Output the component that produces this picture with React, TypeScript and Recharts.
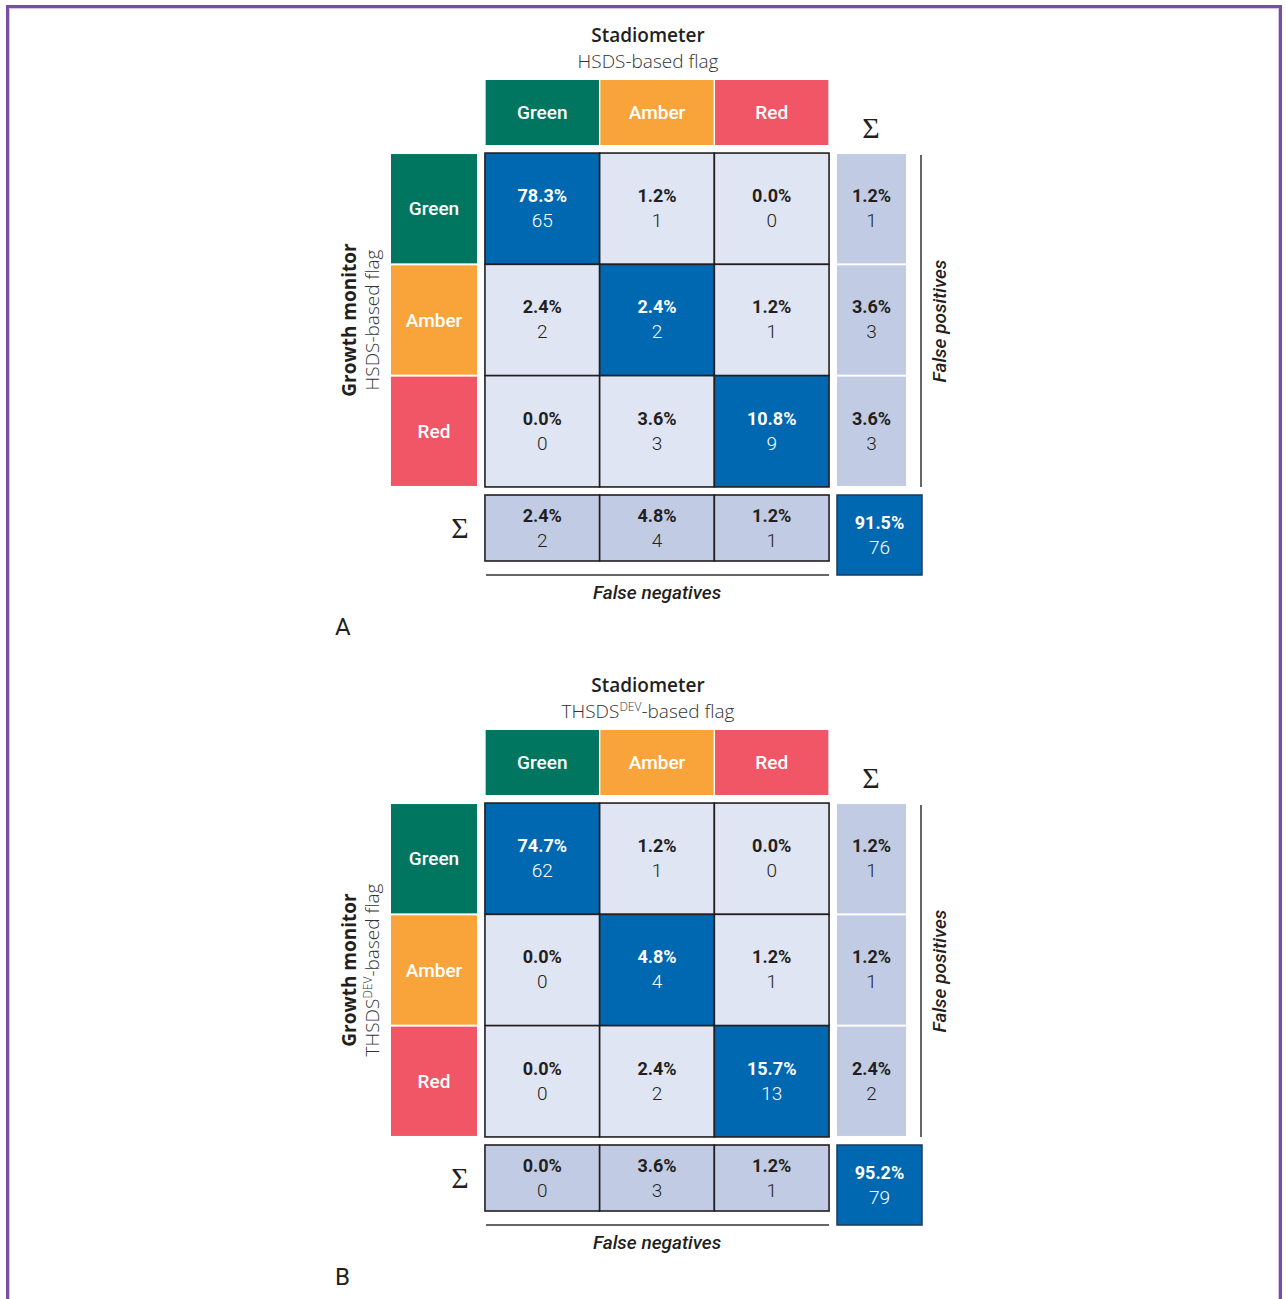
import React from 'react';
import { ScatterChart, Scatter, XAxis, YAxis, ReferenceLine, Customized } from 'recharts';

document.body.style.margin = '0';

// flag categories (rows: growth monitor, columns: stadiometer)
const flags = ['Green', 'Amber', 'Red'];
const flagColours = ['#007660', '#f8a43b', '#f05665'];

// panel A - HSDS-based flag
const hsdsPct = [
  [78.3, 1.2, 0.0],
  [2.4, 2.4, 1.2],
  [0.0, 3.6, 10.8],
];
const hsdsN = [
  [65, 1, 0],
  [2, 2, 1],
  [0, 3, 9],
];
const hsdsFpPct = [1.2, 3.6, 3.6];
const hsdsFpN = [1, 3, 3];
const hsdsFnPct = [2.4, 4.8, 1.2];
const hsdsFnN = [2, 4, 1];
const hsdsTotalPct = 91.5;
const hsdsTotalN = 76;

// panel B - THSDS-DEV-based flag
const thsdsPct = [
  [74.7, 1.2, 0.0],
  [0.0, 4.8, 1.2],
  [0.0, 2.4, 15.7],
];
const thsdsN = [
  [62, 1, 0],
  [0, 4, 1],
  [0, 2, 13],
];
const thsdsFpPct = [1.2, 1.2, 2.4];
const thsdsFpN = [1, 1, 2];
const thsdsFnPct = [0.0, 3.6, 1.2];
const thsdsFnN = [0, 3, 1];
const thsdsTotalPct = 95.2;
const thsdsTotalN = 79;

// layout (px inside one 1286x650 panel)
const W = 1286;
const H = 650;
const CELL_W = 114.7;
const CELL_H = 111.3;
const X0 = 542.3; // centre of first matrix column
const Y0 = 208.7; // centre of first matrix row
const ux = (px: number) => (px - X0) / CELL_W;
const uy = (py: number) => (py - Y0) / CELL_H;

const HEADER_CY = 112.5;
const HEADER_H = 65;
const ROWHEAD_CX = 434;
const ROWHEAD_W = 86;
const SUMCOL_CX = 871.5;
const SUMCOL_W = 69;
const SUMROW_CY = 528;
const SUMROW_H = 66;
const TOTAL_CX = 879.5;
const TOTAL_CY = 535;
const TOTAL_W = 85;
const TOTAL_H = 80;

const BLUE = '#0067b1';
const LIGHT = '#dfe5f3';
const SUMFILL = '#c1cce4';
const BORDER = '#231f20';
const DARK = '#231f20';
const CELL_FONT = 'Roboto, sans-serif';
const LABEL_FONT = '"Open Sans", sans-serif';

const fmt = (v: number) => `${v.toFixed(1)}%`;

const ValueText = ({ cx, cy, pct, n, light, up = 13, down = 11.5 }: any) => (
  <g fontFamily={CELL_FONT} textAnchor="middle" fill={light ? '#ffffff' : DARK}>
    <text x={cx} y={cy - up + 6.4} fontSize={18} fontWeight={700}>
      {fmt(pct)}
    </text>
    <text x={cx} y={cy + down + 6.8} fontSize={19} fontWeight={300}>
      {n}
    </text>
  </g>
);

const matrixShape = (p: any) => {
  const { cx, cy, payload } = p;
  return (
    <g>
      <rect
        x={cx - CELL_W / 2}
        y={cy - CELL_H / 2}
        width={CELL_W}
        height={CELL_H}
        fill={payload.diag ? BLUE : LIGHT}
        stroke={BORDER}
        strokeWidth={1.6}
      />
      <ValueText cx={cx} cy={cy} pct={payload.pct} n={payload.n} light={payload.diag} />
    </g>
  );
};

const headerShape = (p: any) => {
  const { cx, cy, payload } = p;
  return (
    <g>
      <rect x={cx - CELL_W / 2 + 0.7} y={cy - HEADER_H / 2} width={CELL_W - 1.4} height={HEADER_H} fill={payload.colour} />
      <text x={cx} y={cy + 6.5} textAnchor="middle" fill="#fff" fontFamily={CELL_FONT} fontSize={19} fontWeight={500}>
        {payload.label}
      </text>
    </g>
  );
};

const rowHeadShape = (p: any) => {
  const { cx, cy, payload } = p;
  return (
    <g>
      <rect x={cx - ROWHEAD_W / 2} y={cy - CELL_H / 2 + 1} width={ROWHEAD_W} height={CELL_H - 2} fill={payload.colour} />
      <text x={cx} y={cy + 6.5} textAnchor="middle" fill="#fff" fontFamily={CELL_FONT} fontSize={19} fontWeight={500}>
        {payload.label}
      </text>
    </g>
  );
};

const sumColShape = (p: any) => {
  const { cx, cy, payload } = p;
  return (
    <g>
      <rect x={cx - SUMCOL_W / 2} y={cy - CELL_H / 2 + 1} width={SUMCOL_W} height={CELL_H - 2} fill={SUMFILL} />
      <ValueText cx={cx} cy={cy} pct={payload.pct} n={payload.n} />
    </g>
  );
};

const sumRowShape = (p: any) => {
  const { cx, cy, payload } = p;
  return (
    <g>
      <rect
        x={cx - CELL_W / 2}
        y={cy - SUMROW_H / 2}
        width={CELL_W}
        height={SUMROW_H}
        fill={SUMFILL}
        stroke={BORDER}
        strokeWidth={1.6}
      />
      <ValueText cx={cx} cy={cy} pct={payload.pct} n={payload.n} up={12} down={12} />
    </g>
  );
};

const totalShape = (p: any) => {
  const { cx, cy, payload } = p;
  return (
    <g>
      <rect
        x={cx - TOTAL_W / 2}
        y={cy - TOTAL_H / 2}
        width={TOTAL_W}
        height={TOTAL_H}
        fill={BLUE}
        stroke="#1d3a5c"
        strokeWidth={1.5}
      />
      <ValueText cx={cx} cy={cy} pct={payload.pct} n={payload.n} light up={12} down={12} />
    </g>
  );
};

const FlagName = ({ dev }: { dev: boolean }) =>
  dev ? (
    <>
      <tspan>THSDS</tspan>
      <tspan dy={-7} fontSize={12}>
        DEV
      </tspan>
      <tspan dy={7}>-based flag</tspan>
    </>
  ) : (
    <tspan>HSDS-based flag</tspan>
  );

const PanelLabels = ({ dev, letter }: { dev: boolean; letter: string }) => (
  <g fill={DARK}>
    <text x={648} y={42} textAnchor="middle" fontFamily={LABEL_FONT} fontSize={19} fontWeight={600}>
      Stadiometer
    </text>
    <text x={648} y={68} textAnchor="middle" fontFamily={LABEL_FONT} fontSize={19} fontWeight={300} fill="#333">
      <FlagName dev={dev} />
    </text>
    <text x={356} y={320} transform="rotate(-90 356 320)" textAnchor="middle" fontFamily={LABEL_FONT} fontSize={19} fontWeight={700}>
      Growth monitor
    </text>
    <text x={379} y={320} transform="rotate(-90 379 320)" textAnchor="middle" fontFamily={LABEL_FONT} fontSize={19} fontWeight={300} fill="#333">
      <FlagName dev={dev} />
    </text>
    <text x={946} y={321} transform="rotate(-90 946 321)" textAnchor="middle" fontFamily={CELL_FONT} fontSize={19} fontWeight={500} fontStyle="italic">
      False positives
    </text>
    <text x={657} y={599} textAnchor="middle" fontFamily={CELL_FONT} fontSize={19} fontWeight={500} fontStyle="italic">
      False negatives
    </text>
    <text x={871} y={138} textAnchor="middle" fontFamily='"Liberation Serif", serif' fontSize={30}>
      Σ
    </text>
    <text x={460} y={538} textAnchor="middle" fontFamily='"Liberation Serif", serif' fontSize={30}>
      Σ
    </text>
    <text x={335} y={635} fontFamily={CELL_FONT} fontSize={24} fontWeight={400}>
      {letter}
    </text>
  </g>
);

type PanelProps = {
  pct: number[][];
  n: number[][];
  fpPct: number[];
  fpN: number[];
  fnPct: number[];
  fnN: number[];
  totalPct: number;
  totalN: number;
  dev: boolean;
  letter: string;
};

function Panel({ pct, n, fpPct, fpN, fnPct, fnN, totalPct, totalN, dev, letter }: PanelProps) {
  const matrix = pct.flatMap((row, r) => row.map((v, c) => ({ x: c, y: r, pct: v, n: n[r][c], diag: r === c })));
  const headers = flags.map((f, i) => ({ x: i, y: uy(HEADER_CY), label: f, colour: flagColours[i] }));
  const rowHeads = flags.map((f, i) => ({ x: ux(ROWHEAD_CX), y: i, label: f, colour: flagColours[i] }));
  const sumCol = fpPct.map((v, i) => ({ x: ux(SUMCOL_CX), y: i, pct: v, n: fpN[i] }));
  const sumRow = fnPct.map((v, i) => ({ x: i, y: uy(SUMROW_CY), pct: v, n: fnN[i] }));
  const total = [{ x: ux(TOTAL_CX), y: uy(TOTAL_CY), pct: totalPct, n: totalN }];

  return (
    <ScatterChart width={W} height={H} margin={{ top: 0, right: 0, bottom: 0, left: 0 }}>
      <XAxis type="number" dataKey="x" domain={[ux(0), ux(W)]} allowDataOverflow hide />
      <YAxis type="number" dataKey="y" domain={[uy(0), uy(H)]} allowDataOverflow reversed hide />
      <Scatter data={headers} shape={headerShape} isAnimationActive={false} />
      <Scatter data={rowHeads} shape={rowHeadShape} isAnimationActive={false} />
      <Scatter data={sumCol} shape={sumColShape} isAnimationActive={false} />
      <Scatter data={matrix} shape={matrixShape} isAnimationActive={false} />
      <Scatter data={sumRow} shape={sumRowShape} isAnimationActive={false} />
      <Scatter data={total} shape={totalShape} isAnimationActive={false} />
      <ReferenceLine
        segment={[{ x: ux(921), y: uy(155) }, { x: ux(921), y: uy(487) }]}
        stroke="#333"
        strokeWidth={1.5}
        ifOverflow="visible"
      />
      <ReferenceLine
        segment={[{ x: ux(486), y: uy(575) }, { x: ux(829), y: uy(575) }]}
        stroke="#333"
        strokeWidth={1.5}
        ifOverflow="visible"
      />
      <Customized component={<PanelLabels dev={dev} letter={letter} />} />
    </ScatterChart>
  );
}

export default function App() {
  return (
    <div style={{ position: 'relative', width: 1286, height: 1299, overflow: 'hidden', background: '#fff' }}>
      <div
        style={{
          position: 'absolute',
          left: 6,
          top: 5,
          width: 1276,
          height: 1400,
          border: '3px solid #7b4fa0',
          boxShadow: 'inset 0 0 0 1px #d6c3e8',
          boxSizing: 'border-box',
        }}
      />
      <div style={{ position: 'absolute', left: 0, top: 0 }}>
        <Panel
          pct={hsdsPct}
          n={hsdsN}
          fpPct={hsdsFpPct}
          fpN={hsdsFpN}
          fnPct={hsdsFnPct}
          fnN={hsdsFnN}
          totalPct={hsdsTotalPct}
          totalN={hsdsTotalN}
          dev={false}
          letter="A"
        />
      </div>
      <div style={{ position: 'absolute', left: 0, top: 650 }}>
        <Panel
          pct={thsdsPct}
          n={thsdsN}
          fpPct={thsdsFpPct}
          fpN={thsdsFpN}
          fnPct={thsdsFnPct}
          fnN={thsdsFnN}
          totalPct={thsdsTotalPct}
          totalN={thsdsTotalN}
          dev={true}
          letter="B"
        />
      </div>
    </div>
  );
}
